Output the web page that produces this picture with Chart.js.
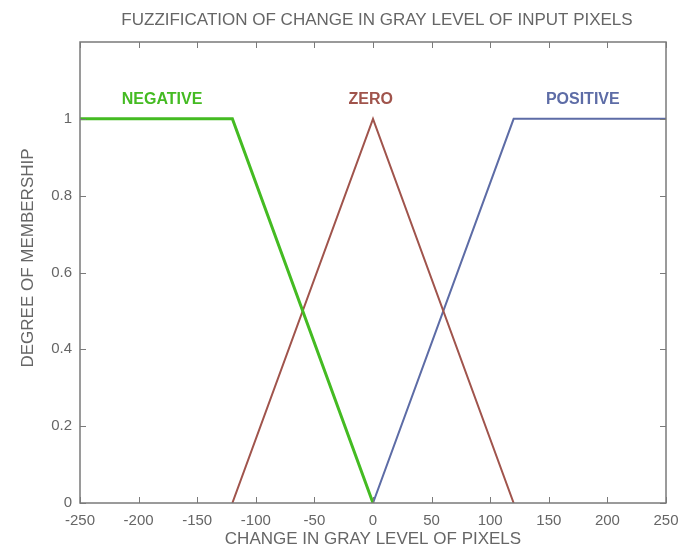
<!DOCTYPE html>
<html>
<head>
<meta charset="utf-8">
<script src="https://cdn.jsdelivr.net/npm/chart.js@4.4.0/dist/chart.umd.min.js"></script>
<style>
  html, body { margin: 0; padding: 0; background: #fff; }
  #wrap { width: 687px; height: 554px; position: relative; }
</style>
</head>
<body>
<div id="wrap"><canvas id="fuzzy-chart"></canvas></div>
<script>
// membership functions (x = change in gray level, y = degree)
const negativeX = [-250, -120, 0];
const negativeY = [1, 1, 0];
const zeroX = [-120, 0, 120];
const zeroY = [0, 1, 0];
const positiveX = [0, 120, 250];
const positiveY = [0, 1, 1];

const xTicks = [-250, -200, -150, -100, -50, 0, 50, 100, 150, 200, 250];
const yTicks = [0, 0.2, 0.4, 0.6, 0.8, 1];

const setLabels = ['NEGATIVE', 'ZERO', 'POSITIVE'];
const labelX = [-180, -2, 179];
const labelY = [1.05, 1.05, 1.05];

const FONT = '"Liberation Sans", Arial, sans-serif';
const TEXT = '#666';
const colors = ['#44bb22', '#a0544c', '#5d6ca6'];

function toPoints(xs, ys) {
    return xs.map((x, i) => ({ x: x, y: ys[i] }));
}

// MATLAB-like frame, inward ticks on all sides, titles and set names
const framePlugin = {
    id: 'frame',
    afterDraw(chart) {
        const ctx = chart.ctx;
        const a = chart.chartArea;
        const xs = chart.scales.x;
        const ys = chart.scales.y;
        ctx.save();
        ctx.strokeStyle = '#7a7a7a';
        ctx.lineWidth = 1.5;
        ctx.strokeRect(a.left, a.top, a.right - a.left, a.bottom - a.top);
        ctx.lineWidth = 1;
        xTicks.forEach(v => {
            const px = Math.round(xs.getPixelForValue(v)) + 0.5;
            ctx.beginPath();
            ctx.moveTo(px, a.bottom); ctx.lineTo(px, a.bottom - 6);
            ctx.moveTo(px, a.top); ctx.lineTo(px, a.top + 6);
            ctx.stroke();
        });
        yTicks.forEach(v => {
            const py = Math.round(ys.getPixelForValue(v)) + 0.5;
            ctx.beginPath();
            ctx.moveTo(a.left, py); ctx.lineTo(a.left + 6, py);
            ctx.moveTo(a.right, py); ctx.lineTo(a.right - 6, py);
            ctx.stroke();
        });

        ctx.fillStyle = TEXT;
        ctx.font = '17px ' + FONT;
        ctx.textAlign = 'center';
        ctx.textBaseline = 'middle';
        ctx.fillText('FUZZIFICATION OF CHANGE IN GRAY LEVEL OF INPUT PIXELS', (a.left + a.right) / 2 + 4, 20);

        ctx.save();
        ctx.translate(28, 258);
        ctx.rotate(-Math.PI / 2);
        ctx.fillText('DEGREE OF MEMBERSHIP', 0, 0);
        ctx.restore();

        ctx.font = 'bold 16px ' + FONT;
        setLabels.forEach((t, i) => {
            ctx.fillStyle = colors[i];
            ctx.fillText(t, xs.getPixelForValue(labelX[i]), ys.getPixelForValue(labelY[i]));
        });
        ctx.restore();
    }
};

new Chart(document.getElementById('fuzzy-chart'), {
    type: 'scatter',
    data: {
        datasets: [
            { label: 'NEGATIVE', data: toPoints(negativeX, negativeY), borderColor: colors[0], borderWidth: 3 },
            { label: 'ZERO', data: toPoints(zeroX, zeroY), borderColor: colors[1], borderWidth: 2 },
            { label: 'POSITIVE', data: toPoints(positiveX, positiveY), borderColor: colors[2], borderWidth: 2 }
        ].map(d => Object.assign(d, { showLine: true, pointRadius: 0, tension: 0, fill: false }))
    },
    options: {
        responsive: true,
        maintainAspectRatio: false,
        animation: false,
        layout: { padding: { top: 42, right: 21, left: 0, bottom: 0 } },
        plugins: {
            legend: { display: false },
            tooltip: { enabled: false }
        },
        scales: {
            x: {
                type: 'linear',
                min: -250,
                max: 250,
                afterFit(scale) { scale.height = 51; },
                afterBuildTicks(scale) { scale.ticks = xTicks.map(v => ({ value: v })); },
                grid: { display: false },
                border: { display: false },
                ticks: { color: TEXT, font: { family: FONT, size: 15 }, padding: 1, maxRotation: 0 },
                title: { display: true, text: 'CHANGE IN GRAY LEVEL OF PIXELS', color: TEXT, font: { family: FONT, size: 17 }, padding: { top: 1 } }
            },
            y: {
                min: 0,
                max: 1.2,
                afterFit(scale) { scale.width = 80; },
                afterBuildTicks(scale) { scale.ticks = yTicks.map(v => ({ value: v })); },
                grid: { display: false },
                border: { display: false },
                ticks: {
                    color: TEXT,
                    font: { family: FONT, size: 15 },
                    padding: 0,
                    callback: v => String(Math.round(v * 10) / 10)
                }
            }
        }
    },
    plugins: [framePlugin]
});
</script>
</body>
</html>
